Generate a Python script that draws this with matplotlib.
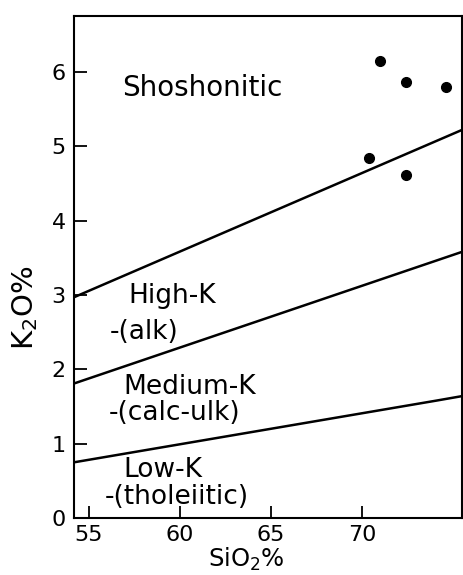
"""
K2O vs SiO2 classification diagram (shoshonitic / high-K / medium-K / low-K)
with the sample points plotted on top. Saves out.png.
"""
import matplotlib
matplotlib.use("Agg")
import matplotlib.pyplot as plt

# --- boundary lines (SiO2 %, K2O %) ---
sho_x = [54.2, 75.5]
sho_y = [2.97, 5.22]
highk_x = [54.2, 75.5]
highk_y = [1.81, 3.58]
medk_x = [54.2, 74.1, 75.5]
medk_y = [0.75, 1.58, 1.64]

# --- samples ---
sample_sio2 = [71.0, 72.4, 74.6, 70.4, 72.4]
sample_k2o = [6.15, 5.86, 5.79, 4.84, 4.62]

xticks = [55, 60, 65, 70]
yticks = [0, 1, 2, 3, 4, 5, 6]

plt.rcParams["font.family"] = ["DejaVu Sans"]

fig = plt.figure(figsize=(4.63, 5.75), dpi=100)
ax = fig.add_axes([0.160, 0.099, 0.838, 0.873])

for xs, ys in ((sho_x, sho_y), (highk_x, highk_y), (medk_x, medk_y)):
    ax.plot(xs, ys, color="black", lw=1.8, solid_capstyle="butt")

ax.plot(sample_sio2, sample_k2o, "o", color="black", ms=7, ls="none")

ax.set_xlim(54.2, 75.5)
ax.set_ylim(0, 6.75)
ax.set_xticks(xticks)
ax.set_yticks(yticks)
ax.tick_params(direction="in", length=9, width=1.3, labelsize=16, pad=6)
ax.tick_params(axis="x", pad=5)
for side in ax.spines.values():
    side.set_linewidth(1.5)

ax.set_xlabel("SiO$_2$%", fontsize=17.5)
ax.xaxis.set_label_coords(0.443, -0.082)
ax.xaxis.label.set_va("center")
ax.set_ylabel("K$_2$O%", fontsize=21)
ax.yaxis.set_label_coords(-0.126, 0.418)
ax.yaxis.label.set_va("center")

# zone labels
big = dict(fontsize=20, ha="left", va="center")
small = dict(fontsize=19, ha="left", va="center")
ax.text(56.83, 5.78, "Shoshonitic", **big)
ax.text(57.16, 2.98, "High-K", **small)
ax.text(56.18, 2.50, "-(alk)", **small)
ax.text(56.89, 1.76, "Medium-K", **small)
ax.text(56.12, 1.41, "-(calc-ulk)", **small)
ax.text(56.89, 0.65, "Low-K", **small)
ax.text(55.90, 0.28, "-(tholeiitic)", **small)

fig.savefig("out.png", dpi=100)
plt.close(fig)
